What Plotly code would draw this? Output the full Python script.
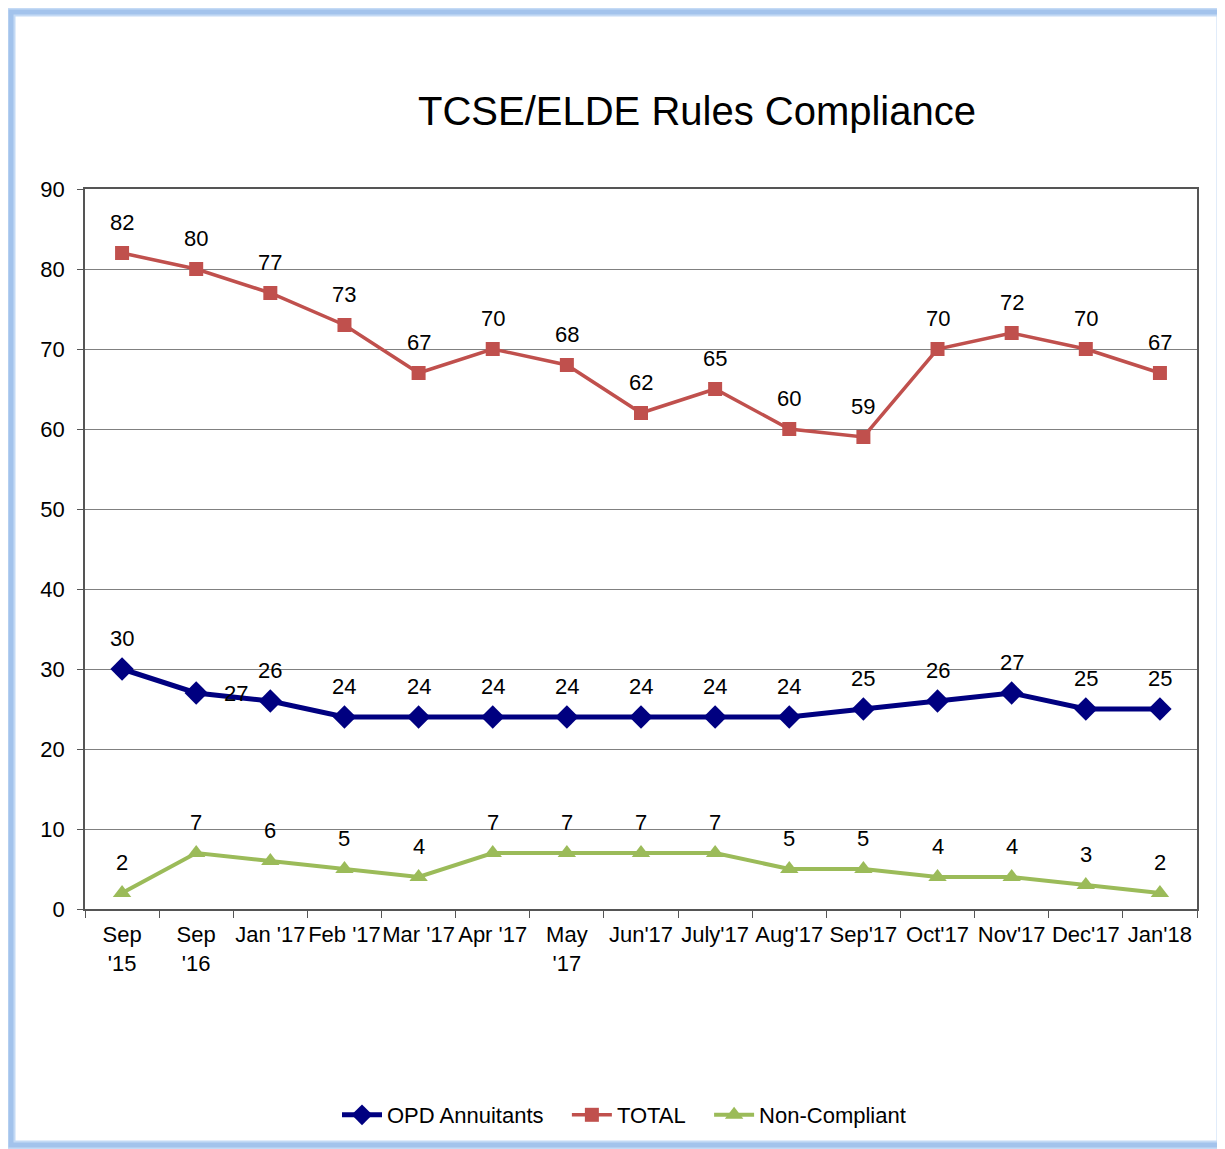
import plotly.graph_objects as go

categories = ["Sep<br>'15", "Sep<br>'16", "Jan '17", "Feb '17", "Mar '17", "Apr '17", "May<br>'17",
              "Jun'17", "July'17", "Aug'17", "Sep'17", "Oct'17", "Nov'17", "Dec'17", "Jan'18"]
opd = [30, 27, 26, 24, 24, 24, 24, 24, 24, 24, 25, 26, 27, 25, 25]
total = [82, 80, 77, 73, 67, 70, 68, 62, 65, 60, 59, 70, 72, 70, 67]
noncomp = [2, 7, 6, 5, 4, 7, 7, 7, 7, 5, 5, 4, 4, 3, 2]
series_names = ["OPD Annuitants", "TOTAL", "Non-Compliant"]

OFF = 8  # page body margin
W, H = 1225 - OFF, 1149 - OFF
# target screen coordinates of the plot area
L, R, T, B = 85, 1197, 189, 909
pw, ph = R - L, B - T

FONT = "Liberation Sans, Arial, sans-serif"
FS = 22
PAD = "\u00a0" * 3

fig = go.Figure()
fig.add_trace(go.Scatter(x=categories, y=opd, name=series_names[0] + PAD, mode="lines+markers",
                         line=dict(color="#000080", width=5),
                         marker=dict(symbol="diamond", size=18, color="#000080")))
fig.add_trace(go.Scatter(x=categories, y=total, name=series_names[1] + PAD, mode="lines+markers",
                         line=dict(color="#C0504D", width=3.5),
                         marker=dict(symbol="square", size=14, color="#C0504D")))
fig.add_trace(go.Scatter(x=categories, y=noncomp, name=series_names[2], mode="lines+markers",
                         line=dict(color="#9BBB59", width=4),
                         marker=dict(symbol="triangle-up", size=16, color="#9BBB59")))

annotations = []
for series in (total, opd, noncomp):
    for i, (c, v) in enumerate(zip(categories, series)):
        xs, ys = 0, 31
        if series is opd and i == 1:
            xs, ys = 40, 0
        annotations.append(dict(x=c, y=v, text=str(v), showarrow=False, xshift=xs, yshift=ys,
                                font=dict(size=FS, color="black", family=FONT)))

def px_x(p):
    return (p - L) / pw

def px_y(p):
    return (B - p) / ph

fig.add_shape(type="rect", xref="paper", yref="paper",
              x0=px_x(11), x1=px_x(1221), y0=px_y(12), y1=px_y(1145),
              line=dict(color="#c4daf5", width=9), layer="below")
fig.add_shape(type="rect", xref="paper", yref="paper",
              x0=px_x(11), x1=px_x(1221), y0=px_y(12), y1=px_y(1145),
              line=dict(color="#a3c3ec", width=5), layer="below")

fig.update_layout(
    width=W, height=H,
    margin=dict(l=L - OFF, r=W - (R - OFF), t=T - OFF, b=H - (B - OFF), autoexpand=False),
    paper_bgcolor="white", plot_bgcolor="white",
    font=dict(family=FONT, size=FS, color="black"),
    title=dict(text="TCSE/ELDE Rules Compliance", x=(697 - OFF) / W, xanchor="center",
               y=1 - (111 - OFF) / H, yanchor="middle", xref="container", yref="container",
               font=dict(size=40, family=FONT, color="black")),
    showlegend=True,
    legend=dict(orientation="h", x=(624 - OFF) / W, xanchor="center", xref="container",
                y=1 - (1115 - OFF) / H, yanchor="middle", yref="container",
                font=dict(size=FS, family=FONT), itemwidth=40, tracegroupgap=0,
                bgcolor="rgba(0,0,0,0)"),
    annotations=annotations,
)
fig.update_xaxes(type="category", tickson="boundaries", ticks="outside", ticklen=7,
                 tickcolor="#555555", showline=True, linecolor="#555555", linewidth=1.5,
                 mirror=True, showgrid=False, tickangle=0, ticklabelstandoff=5,
                 tickfont=dict(size=FS, family=FONT),
                 range=[-0.5, len(categories) - 0.5])
fig.update_yaxes(range=[0, 90], dtick=10, ticks="outside", ticklen=6, tickcolor="#555555",
                 showline=True, linecolor="#555555", linewidth=1.5, mirror=True,
                 showgrid=True, gridcolor="#808080", gridwidth=1, zeroline=False,
                 ticklabelstandoff=8, tickfont=dict(size=FS, family=FONT))

fig.write_html("out.html")
